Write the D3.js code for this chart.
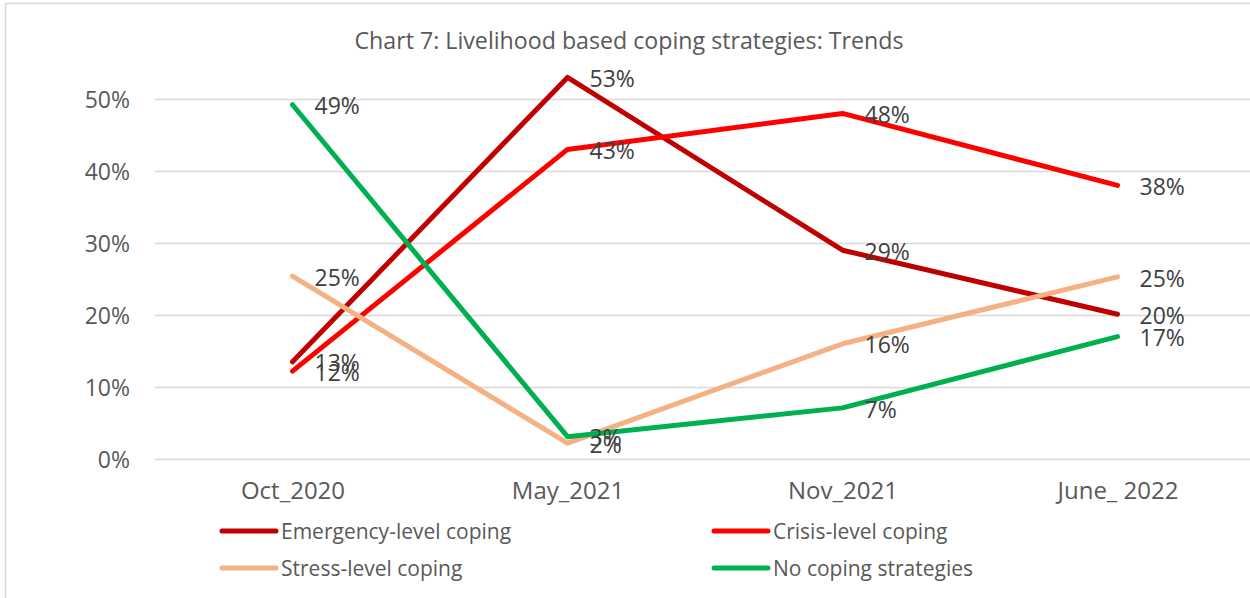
<!DOCTYPE html>
<html>
<head>
<meta charset="utf-8">
<script src="https://cdn.jsdelivr.net/npm/d3@7"></script>
<style>
  html, body { margin: 0; padding: 0; background: #fff; }
  svg { display: block; font-family: "Open Sans", sans-serif; }
</style>
</head>
<body>
<div id="js-canvas"></div>
<script>
"use strict";

// Survey rounds along the x axis.
const rounds = ["Oct_2020", "May_2021", "Nov_2021", "June_ 2022"];

// Share of households per strategy, in percent.
const emergency = [13.5, 53, 29, 20.1];
const crisis = [12.2, 43, 48, 38];
const stress = [25.4, 2.2, 16, 25.3];
const noCoping = [49.2, 3.1, 7.1, 17];

const labels = {
  emergency: ["13%", "53%", "29%", "20%"],
  crisis: ["12%", "43%", "48%", "38%"],
  stress: ["25%", "2%", "16%", "25%"],
  noCoping: ["49%", "3%", "7%", "17%"]
};

const yTicks = [0, 10, 20, 30, 40, 50];

const series = [
  { key: "emergency", name: "Emergency-level coping", values: emergency, color: "#C00000" },
  { key: "crisis", name: "Crisis-level coping", values: crisis, color: "#FF0000" },
  { key: "stress", name: "Stress-level coping", values: stress, color: "#F4B183" },
  { key: "noCoping", name: "No coping strategies", values: noCoping, color: "#00B050" }
];

const width = 1250;
const height = 598;
const plot = { left: 155, right: 1255, top: 99, bottom: 459 };
const fontSize = 23;

const svg = d3.select("#js-canvas")
  .append("svg")
    .attr("width", width)
    .attr("height", height);

// chart frame
svg.append("rect")
  .attr("x", 5.5)
  .attr("y", 3.5)
  .attr("width", 1300)
  .attr("height", 700)
  .attr("fill", "none")
  .attr("stroke", "#d9d9d9")
  .attr("stroke-width", 1.5);

const x = d3.scalePoint()
  .domain(rounds)
  .range([plot.left, plot.right])
  .padding(0.5);

const y = d3.scaleLinear()
  .domain([0, 50])
  .range([plot.bottom, plot.top]);

svg.append("text")
  .attr("x", 629)
  .attr("y", 49)
  .attr("text-anchor", "middle")
  .attr("fill", "#595959")
  .style("font-size", "23.2px")
  .text("Chart 7: Livelihood based coping strategies: Trends");

// gridlines + y labels
const yAxis = svg.append("g")
  .attr("transform", "translate(" + plot.left + ",0)")
  .call(d3.axisLeft(y)
    .tickValues(yTicks)
    .tickSize(-(plot.right - plot.left))
    .tickPadding(25)
    .tickFormat(function (d) { return d + "%"; }));
yAxis.select(".domain").remove();
yAxis.selectAll(".tick line")
  .attr("stroke", "#d9d9d9")
  .attr("stroke-width", 1.5);
yAxis.selectAll(".tick text")
  .attr("fill", "#595959")
  .attr("dy", "0.36em")
  .style("font-size", fontSize + "px")
  .style("font-family", "Open Sans");

const xAxis = svg.append("g")
  .attr("transform", "translate(0," + plot.bottom + ")")
  .call(d3.axisBottom(x).tickSize(0).tickPadding(23));
xAxis.select(".domain").remove();
xAxis.selectAll(".tick text")
  .attr("fill", "#595959")
  .style("font-size", "24px")
  .style("font-family", "Open Sans");

const line = d3.line()
  .x(function (d, i) { return x(rounds[i]); })
  .y(function (d) { return y(d); });

svg.append("g")
  .selectAll("path")
  .data(series)
  .enter()
  .append("path")
    .attr("d", function (s) { return line(s.values); })
    .attr("fill", "none")
    .attr("stroke", function (s) { return s.color; })
    .attr("stroke-width", 5)
    .attr("stroke-linecap", "round")
    .attr("stroke-linejoin", "round");

// data labels to the right of each point
series.forEach(function (s) {
  svg.append("g")
    .selectAll("text")
    .data(s.values)
    .enter()
    .append("text")
      .attr("x", function (d, i) { return x(rounds[i]) + 22; })
      .attr("y", function (d) { return y(d); })
      .attr("dy", "0.42em")
      .attr("fill", "#404040")
      .style("font-size", fontSize + "px")
      .text(function (d, i) { return labels[s.key][i]; });
});

// legend, two columns
const legend = svg.append("g")
  .selectAll("g")
  .data(series)
  .enter()
  .append("g")
    .attr("transform", function (s, i) {
      const col = i % 2, row = Math.floor(i / 2);
      return "translate(" + (220 + col * 492) + "," + (531 + row * 37) + ")";
    });

legend.append("line")
  .attr("x1", 2)
  .attr("x2", 56)
  .attr("stroke", function (s) { return s.color; })
  .attr("stroke-width", 5)
  .attr("stroke-linecap", "round");

legend.append("text")
  .attr("x", 61)
  .attr("dy", "0.36em")
  .attr("fill", "#595959")
  .style("font-size", "21px")
  .text(function (s) { return s.name; });
</script>
</body>
</html>
